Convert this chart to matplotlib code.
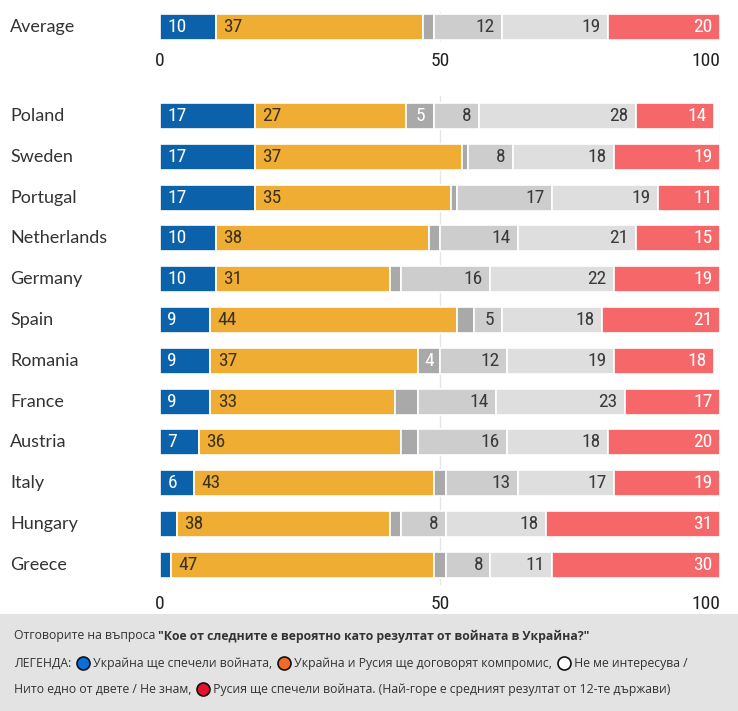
import matplotlib
matplotlib.use("Agg")
import matplotlib.pyplot as plt
from matplotlib.patches import Rectangle
from matplotlib import font_manager

# data (percent), top-to-bottom order
countries = ["Poland", "Sweden", "Portugal", "Netherlands", "Germany", "Spain",
             "Romania", "France", "Austria", "Italy", "Hungary", "Greece"]
ukraine_wins = [17, 17, 17, 10, 10, 9, 9, 9, 7, 6, 3, 2]
compromise = [27, 37, 35, 38, 31, 44, 37, 33, 36, 43, 38, 47]
not_interested = [5, 1, 1, 2, 2, 3, 4, 4, 3, 2, 2, 2]
neither = [8, 8, 17, 14, 16, 5, 12, 14, 16, 13, 8, 8]
dont_know = [28, 18, 19, 21, 22, 18, 19, 23, 18, 17, 18, 11]
russia_wins = [14, 19, 11, 15, 19, 21, 18, 17, 20, 19, 31, 30]

average = [10, 37, 2, 12, 19, 20]

# which labels are printed on the chart (None = no label)
labels_ukraine = [17, 17, 17, 10, 10, 9, 9, 9, 7, 6, None, None]
labels_not_int = [5, None, None, None, None, None, 4, None, None, None, None, None]
labels_average = [10, 37, None, 12, 19, 20]

ticks = [0, 50, 100]

colors = ["#0b62aa", "#efad34", "#a9a9a9", "#cdcdcd", "#dedede", "#f6676a"]
txt_colors = ["white", "#3d3220", "white", "#3a3a3a", "#3a3a3a", "white"]
aligns = ["left", "left", "center", "right", "right", "right"]

W, H = 738, 711
fig = plt.figure(figsize=(W / 100, H / 100), dpi=100)

# condensed face for the numbers if one is installed
names = {f.name for f in font_manager.fontManager.ttflist}
cond = [n for n in ("Liberation Sans Narrow", "DejaVu Sans Condensed", "Roboto Condensed",
                    "Open Sans Condensed") if n in names]
NUMFONT = cond[:1] + ["DejaVu Sans"]
NUMSTRETCH = "condensed"
LABFONT = ["Lato", "DejaVu Sans"]


def px_axes(left, top, right, bottom):
    return fig.add_axes([left / W, 1 - bottom / H, (right - left) / W, (bottom - top) / H])


def draw_row(ax, y, vals, labs, height):
    left = 0
    for i, v in enumerate(vals):
        ax.barh(y, v, left=left, height=height, color=colors[i],
                edgecolor="white", linewidth=1.2, zorder=2)
        lab = labs[i]
        if lab is not None:
            if aligns[i] == "left":
                x, ha = left + 1.3, "left"
            elif aligns[i] == "right":
                x, ha = left + v - 1.3, "right"
            else:
                x, ha = left + v / 2, "center"
            ax.text(x, y, str(lab), ha=ha, va="center", fontsize=14, stretch=NUMSTRETCH,
                    color=txt_colors[i], family=NUMFONT, zorder=3)
        left += v


def style_axis(ax):
    ax.set_xlim(0, 100)
    ax.set_xticks(ticks)
    ax.set_xticklabels([str(t) for t in ticks], fontsize=14, color="#222222",
                       family=NUMFONT, stretch=NUMSTRETCH)
    ax.get_xticklabels()[-1].set_horizontalalignment("right")
    ax.tick_params(axis="x", length=0, pad=7)
    ax.tick_params(axis="y", length=0)
    for s in ax.spines.values():
        s.set_visible(False)
    ax.set_yticks([])
    for t in (50, 100):
        ax.axvline(t, color="#e6e6e6", linewidth=1, zorder=0)


# average row
ax0 = px_axes(160, 12, 720, 42)
ax0.set_ylim(-0.5, 0.5)
draw_row(ax0, 0, average, labels_average, 26 / 30)
style_axis(ax0)
fig.text(10 / W, 1 - 27 / H, "Average", fontsize=13, color="#333333",
         family=LABFONT, va="center", ha="left")

# country rows
step = 40.8
top = 116 - step / 2
ax = px_axes(160, top, 720, top + step * 12)
ax.set_ylim(11.5, -0.5)
rows = list(zip(ukraine_wins, compromise, not_interested, neither, dont_know, russia_wins))
for r, vals in enumerate(rows):
    labs = [labels_ukraine[r], compromise[r], labels_not_int[r],
            neither[r], dont_know[r], russia_wins[r]]
    draw_row(ax, r, vals, labs, 26 / step)
    fig.text(10 / W, 1 - (116 + r * step) / H, countries[r], fontsize=13,
             color="#333333", family=LABFONT, va="center", ha="left")
style_axis(ax)

# footer
fig.patches.append(Rectangle((0, 0), 1, (H - 614) / H, transform=fig.transFigure,
                             facecolor="#e3e3e3", edgecolor="none", zorder=0))

renderer = fig.canvas.get_renderer()
FOOT = ["Open Sans", "DejaVu Sans"]
FS = 8.8
DOT = 13  # px


def put_line(pieces, x0, ycen):
    x = x0
    for kind, content in pieces:
        if kind == "text":
            text, weight = content
            t = fig.text(x / W, 1 - ycen / H, text, fontsize=FS, color="#333333",
                         family=FOOT, weight=weight, va="center", ha="left")
            x += t.get_window_extent(renderer).width
        else:
            x += 5 + DOT / 2
            fig.lines.append(plt.Line2D([x / W], [1 - ycen / H], marker="o",
                                        markersize=DOT * 0.72, markerfacecolor=content,
                                        markeredgecolor="#111111", markeredgewidth=1.2,
                                        transform=fig.transFigure))
            x += DOT / 2 + 1


put_line([("text", ("Отговорите на въпроса ", "normal")),
          ("text", ("\"Кое от следните е вероятно като резултат от войната в Украйна?\"", "bold"))],
         14, 636)
put_line([("text", ("ЛЕГЕНДА:", "normal")), ("dot", "#0a6fd8"),
          ("text", (" Украйна ще спечели войната,", "normal")), ("dot", "#f26a2a"),
          ("text", (" Украйна и Русия ще договорят компромис,", "normal")), ("dot", "white"),
          ("text", (" Не ме интересува /", "normal"))], 14, 663)
put_line([("text", ("Нито едно от двете / Не знам,", "normal")), ("dot", "#e5112d"),
          ("text", (" Русия ще спечели войната. (Най-горе е средният резултат от 12-те държави)", "normal"))],
         14, 689)

fig.savefig("out.png", dpi=100)
